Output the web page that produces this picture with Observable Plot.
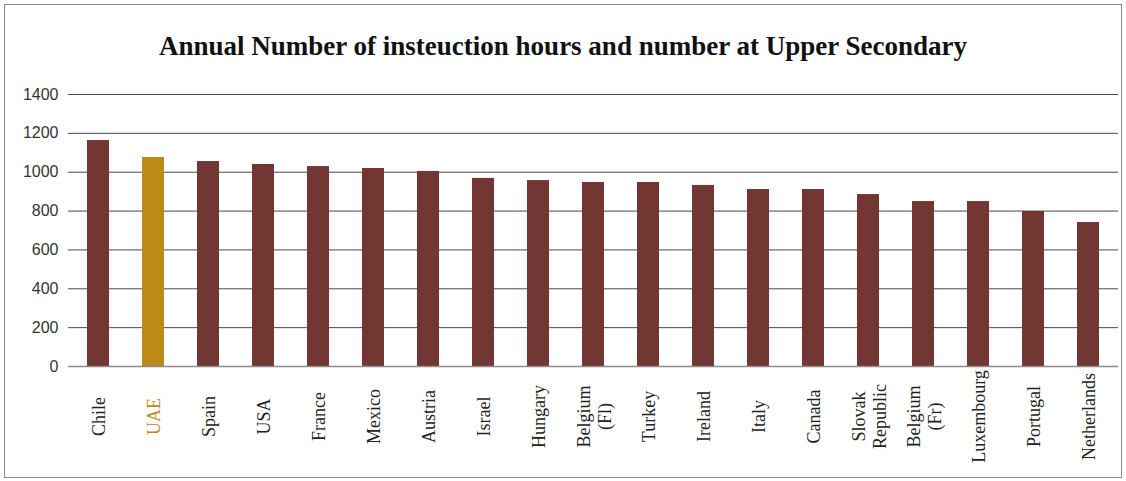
<!DOCTYPE html>
<html>
<head>
<meta charset="utf-8">
<script src="https://cdn.jsdelivr.net/npm/d3@7"></script>
<script src="https://cdn.jsdelivr.net/npm/@observablehq/plot@0.6"></script>
<style>
  html, body { margin: 0; padding: 0; background: #fff; }
  #frame {
    position: absolute; left: 4px; top: 4px; width: 1116px; height: 472px;
    border: 1px solid #8a8a8a; background: #fff;
  }
  #title {
    position: absolute; left: 0; top: 30px; width: 1126px; text-align: center;
    font-family: "Liberation Serif", "Times New Roman", serif; font-weight: bold;
    font-size: 27px; color: #111; line-height: 32px;
  }
  #chart { position: absolute; left: 5px; top: 70px; }
</style>
</head>
<body>
<div id="frame"></div>
<div id="title">Annual Number of insteuction hours and number at Upper Secondary</div>
<div id="chart"></div>
<script>
const countries = ["Chile","UAE","Spain","USA","France","Mexico","Austria","Israel","Hungary","Belgium (Fl)","Turkey","Ireland","Italy","Canada","Slovak Republic","Belgium (Fr)","Luxembourg","Portugal","Netherlands"];
const hours = [1163,1076,1055,1040,1029,1019,1004,968,957,947,947,932,911,911,885,849,849,798,741];
const tickLabels = ["Chile","UAE","Spain","USA","France","Mexico","Austria","Israel","Hungary","Belgium\n(Fl)","Turkey","Ireland","Italy","Canada","Slovak\nRepublic","Belgium\n(Fr)","Luxembourg","Portugal","Netherlands"];
const yTicks = [0,200,400,600,800,1000,1200,1400];
const highlight = "UAE";

const maroon = "#723733";
const gold = "#BC8A17";

const rows = countries.map((c, i) => ({country: c, hours: hours[i], label: tickLabels[i]}));

const plot = Plot.plot({
  width: 1116,
  height: 406,
  marginTop: 24,
  marginBottom: 110,
  marginLeft: 63,
  marginRight: 3,
  style: {background: "transparent", overflow: "visible"},
  x: {domain: countries, paddingInner: 0.6, paddingOuter: 0.3, axis: null},
  y: {domain: [0, 1400], ticks: yTicks, label: null},
  color: {type: "identity"},
  marks: [
    Plot.ruleY(yTicks.filter(t => t > 0), {stroke: "#4a4a4a", strokeWidth: 1}),
    Plot.barY(rows, {x: "country", y: "hours", fill: d => d.country === highlight ? gold : maroon}),
    Plot.ruleY([0], {stroke: "#8c8c8c", strokeWidth: 1.5}),
    Plot.axisY({ticks: yTicks, tickSize: 0, tickPadding: 10, label: null, tickFormat: d3.format("d"),
      fontSize: 16, fontFamily: "'Liberation Sans', Arial, sans-serif", fill: "#333"}),
    Plot.text(rows, {
      x: "country", y: () => 0, text: "label", rotate: -90, dy: 50,
      textAnchor: "middle", lineAnchor: "middle", lineHeight: 1.2,
      fontSize: 18, fontFamily: "'Liberation Serif', 'Times New Roman', serif",
      fill: d => d.country === highlight ? gold : "#222"
    })
  ]
});
document.getElementById("chart").appendChild(plot);
</script>
</body>
</html>
